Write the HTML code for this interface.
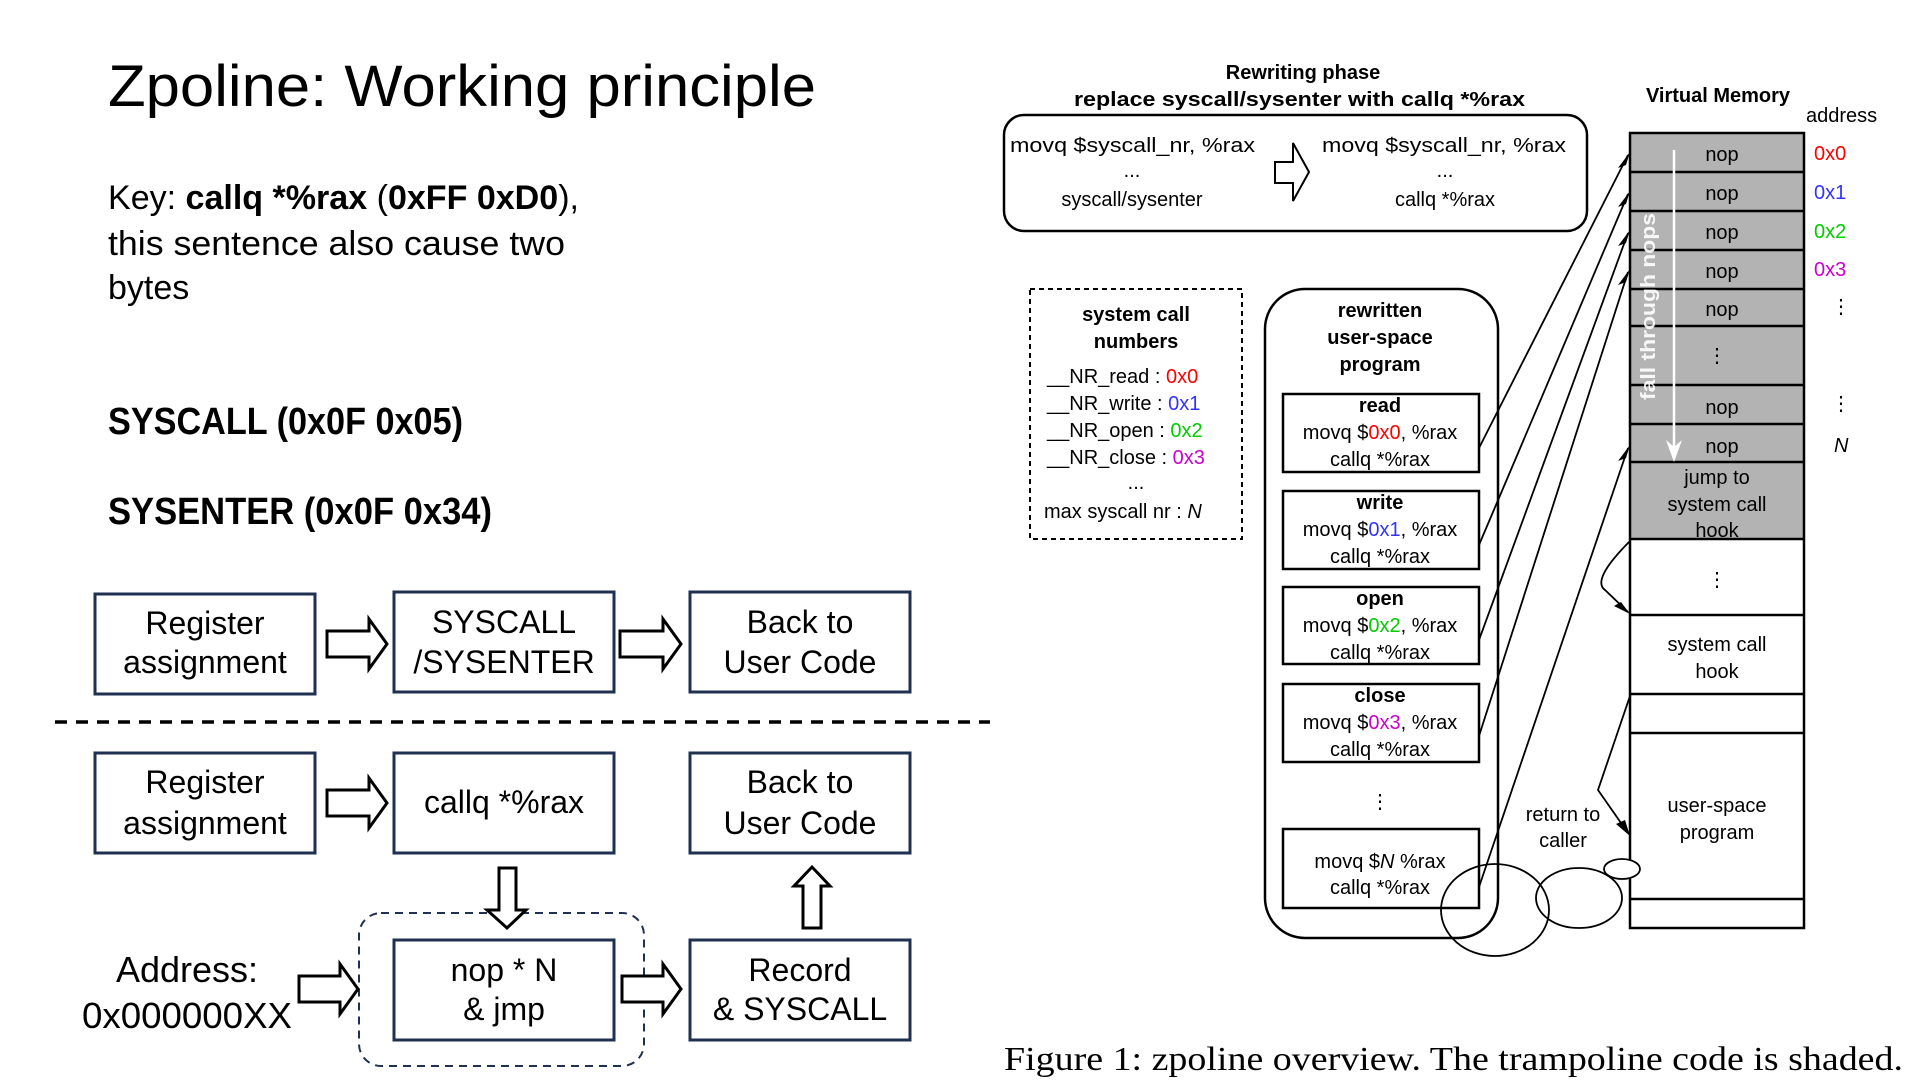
<!DOCTYPE html>
<html><head><meta charset="utf-8"><style>
html,body{margin:0;padding:0;background:#fff;}
svg{display:block;}
text{font-family:"Liberation Sans",sans-serif;fill:#000;}
.b{font-weight:bold;}
.c{text-anchor:middle;}
</style></head><body>
<svg width="1922" height="1087" viewBox="0 0 1922 1087" xmlns="http://www.w3.org/2000/svg">
<!-- LEFT -->
<text x="108" y="106" font-size="58" textLength="708" lengthAdjust="spacingAndGlyphs">Zpoline: Working principle</text>
<text x="108" y="209" font-size="34" textLength="471" lengthAdjust="spacingAndGlyphs">Key: <tspan class="b">callq *%rax</tspan> (<tspan class="b">0xFF 0xD0</tspan>),</text>
<text x="108" y="255" font-size="34" textLength="457" lengthAdjust="spacingAndGlyphs">this sentence also cause two</text>
<text x="108" y="299" font-size="34">bytes</text>
<text x="108" y="434" font-size="38" class="b" textLength="355" lengthAdjust="spacingAndGlyphs">SYSCALL (0x0F 0x05)</text>
<text x="108" y="524" font-size="38" class="b" textLength="384" lengthAdjust="spacingAndGlyphs">SYSENTER (0x0F 0x34)</text>

<g fill="#fff" stroke="#1f3050" stroke-width="3">
<rect x="95" y="594" width="220" height="100"/>
<rect x="394" y="592" width="220" height="100"/>
<rect x="690" y="592" width="220" height="100"/>
<rect x="95" y="753" width="220" height="100"/>
<rect x="394" y="753" width="220" height="100"/>
<rect x="690" y="753" width="220" height="100"/>
<rect x="394" y="940" width="220" height="100"/>
<rect x="690" y="940" width="220" height="100"/>
</g>
<line x1="55" y1="722" x2="990" y2="722" stroke="#000" stroke-width="3.5" stroke-dasharray="12,9"/>
<rect x="359" y="913" width="285" height="153" rx="22" fill="none" stroke="#1f3050" stroke-width="2" stroke-dasharray="8,6"/>
<g fill="#fff" stroke="#000" stroke-width="3">
<polygon points="327,631 369,631 369,619 387,644 369,669 369,657 327,657"/>
<polygon points="620,631 663,631 663,619 681,644 663,669 663,657 620,657"/>
<polygon points="327,790 369,790 369,778 387,803 369,828 369,816 327,816"/>
<polygon points="299,976 340,976 340,964 358,989 340,1014 340,1002 299,1002"/>
<polygon points="622,976 663,976 663,964 681,989 663,1014 663,1002 622,1002"/>
<polygon points="499,868 516,868 516,910 526,910 507,928 487,910 499,910"/>
<polygon points="803,928 821,928 821,886 830,886 812,867 794,886 803,886"/>
</g>
<g font-size="32" class="c">
<text x="205" y="634">Register</text><text x="205" y="673">assignment</text>
<text x="504" y="633">SYSCALL</text><text x="504" y="673">/SYSENTER</text>
<text x="800" y="633">Back to</text><text x="800" y="673">User Code</text>
<text x="205" y="793">Register</text><text x="205" y="834">assignment</text>
<text x="504" y="813">callq *%rax</text>
<text x="800" y="793">Back to</text><text x="800" y="834">User Code</text>
<text x="504" y="981">nop * N</text><text x="504" y="1020">&amp; jmp</text>
<text x="800" y="981">Record</text><text x="800" y="1020">&amp; SYSCALL</text>
<text x="187" y="982" font-size="36">Address:</text>
</g>
<text x="82" y="1028" font-size="36" textLength="210" lengthAdjust="spacingAndGlyphs">0x000000XX</text>

<!-- RIGHT -->
<g transform="translate(-5,0)">
<g font-size="20">
<text x="1308" y="79" class="b c">Rewriting phase</text>
<text x="1079" y="106" class="b" textLength="451" lengthAdjust="spacingAndGlyphs">replace syscall/sysenter with callq *%rax</text>
<rect x="1009" y="115" width="583" height="116" rx="20" fill="none" stroke="#000" stroke-width="2.5"/>
<text x="1015" y="152" textLength="245" lengthAdjust="spacingAndGlyphs">movq $syscall_nr, %rax</text>
<text x="1137" y="177" class="c">...</text>
<text x="1137" y="206" class="c">syscall/sysenter</text>
<text x="1327" y="152" textLength="244" lengthAdjust="spacingAndGlyphs">movq $syscall_nr, %rax</text>
<text x="1450" y="177" class="c">...</text>
<text x="1450" y="206" class="c">callq *%rax</text>
<polygon points="1280,162 1298,162 1298,143 1314,172 1298,201 1298,183 1280,183" fill="#fff" stroke="#000" stroke-width="2"/>

<text x="1723" y="102" class="b c">Virtual Memory</text>
<text x="1811" y="122">address</text>

<rect x="1635" y="133" width="174" height="406" fill="#b3b3b3"/>
<rect x="1635" y="133" width="174" height="795" fill="none" stroke="#000" stroke-width="2.5"/>
<g stroke="#000" stroke-width="2.5">
<line x1="1635" y1="172" x2="1809" y2="172"/><line x1="1635" y1="211" x2="1809" y2="211"/>
<line x1="1635" y1="250" x2="1809" y2="250"/><line x1="1635" y1="289" x2="1809" y2="289"/>
<line x1="1635" y1="326" x2="1809" y2="326"/><line x1="1635" y1="385" x2="1809" y2="385"/>
<line x1="1635" y1="424" x2="1809" y2="424"/><line x1="1635" y1="462" x2="1809" y2="462"/>
<line x1="1635" y1="539" x2="1809" y2="539"/><line x1="1635" y1="615" x2="1809" y2="615"/>
<line x1="1635" y1="694" x2="1809" y2="694"/><line x1="1635" y1="733" x2="1809" y2="733"/>
<line x1="1635" y1="899" x2="1809" y2="899"/>
</g>
<g class="c">
<text x="1727" y="161">nop</text><text x="1727" y="200">nop</text><text x="1727" y="239">nop</text>
<text x="1727" y="278">nop</text><text x="1727" y="316">nop</text>
<text x="1722" y="362">⋮</text>
<text x="1727" y="414">nop</text><text x="1727" y="453">nop</text>
<text x="1722" y="484">jump to</text><text x="1722" y="511">system call</text><text x="1722" y="537">hook</text>
<text x="1722" y="586">⋮</text>
<text x="1722" y="651">system call</text><text x="1722" y="678">hook</text>
<text x="1722" y="812">user-space</text><text x="1722" y="839">program</text>
</g>
<text x="1680" y="400" transform="rotate(-90 1660 400)" font-size="20" class="b" style="fill:#fff;opacity:.9" textLength="187" lengthAdjust="spacingAndGlyphs" dx="-20">fall through nops</text>
<line x1="1679" y1="150" x2="1679" y2="452" stroke="#fff" stroke-width="2.5"/>
<polygon points="1671,440 1679,462 1687,440 1679,447" fill="#fff"/>

<text x="1819" y="160" style="fill:#f00">0x0</text>
<text x="1819" y="199" style="fill:#33f">0x1</text>
<text x="1819" y="238" style="fill:#0c0">0x2</text>
<text x="1819" y="276" style="fill:#c0c">0x3</text>
<text x="1846" y="313" class="c">⋮</text>
<text x="1846" y="410" class="c">⋮</text>
<text x="1839" y="452" font-style="italic">N</text>

<rect x="1035" y="289" width="212" height="250" fill="none" stroke="#000" stroke-width="2" stroke-dasharray="5,4"/>
<text x="1141" y="321" class="b c">system call</text>
<text x="1141" y="348" class="b c">numbers</text>
<text x="1052" y="383">__NR_read : <tspan style="fill:#f00">0x0</tspan></text>
<text x="1052" y="410">__NR_write : <tspan style="fill:#33f">0x1</tspan></text>
<text x="1052" y="437">__NR_open : <tspan style="fill:#0c0">0x2</tspan></text>
<text x="1052" y="464">__NR_close : <tspan style="fill:#c0c">0x3</tspan></text>
<text x="1141" y="489" class="c">...</text>
<text x="1049" y="518">max syscall nr : <tspan font-style="italic">N</tspan></text>

<rect x="1270" y="289" width="233" height="649" rx="40" fill="none" stroke="#000" stroke-width="2.5"/>
<text x="1385" y="317" class="b c">rewritten</text>
<text x="1385" y="344" class="b c">user-space</text>
<text x="1385" y="371" class="b c">program</text>
<g fill="#fff" stroke="#000" stroke-width="2.5">
<rect x="1288" y="394" width="196" height="78"/>
<rect x="1288" y="491" width="196" height="78"/>
<rect x="1288" y="587" width="196" height="77"/>
<rect x="1288" y="684" width="196" height="78"/>
<rect x="1288" y="829" width="196" height="79"/>
</g>
<g class="c">
<text x="1385" y="412" class="b">read</text>
<text x="1385" y="439">movq $<tspan style="fill:#f00">0x0</tspan>, %rax</text>
<text x="1385" y="466">callq *%rax</text>
<text x="1385" y="509" class="b">write</text>
<text x="1385" y="536">movq $<tspan style="fill:#33f">0x1</tspan>, %rax</text>
<text x="1385" y="563">callq *%rax</text>
<text x="1385" y="605" class="b">open</text>
<text x="1385" y="632">movq $<tspan style="fill:#0c0">0x2</tspan>, %rax</text>
<text x="1385" y="659">callq *%rax</text>
<text x="1385" y="702" class="b">close</text>
<text x="1385" y="729">movq $<tspan style="fill:#c0c">0x3</tspan>, %rax</text>
<text x="1385" y="756">callq *%rax</text>
<text x="1385" y="808">⋮</text>
<text x="1385" y="868">movq $<tspan font-style="italic">N</tspan> %rax</text>
<text x="1385" y="894">callq *%rax</text>
<text x="1568" y="821">return to</text>
<text x="1568" y="847">caller</text>
</g>
</g>
<g stroke="#000" stroke-width="1.8" fill="none">
<line x1="1484" y1="448" x2="1633" y2="155"/>
<line x1="1484" y1="545" x2="1633" y2="194"/>
<line x1="1484" y1="640" x2="1633" y2="233"/>
<line x1="1484" y1="736" x2="1633" y2="272"/>
<line x1="1484" y1="887" x2="1633" y2="448"/>
<path d="M1635,541 Q1596,580 1610,590 L1633,612"/>
<path d="M1635,696 L1603,790 L1633,833"/>
<ellipse cx="1500" cy="910" rx="54" ry="46"/>
<ellipse cx="1584" cy="898" rx="43" ry="30"/>
<ellipse cx="1627" cy="869" rx="18" ry="10" fill="#fff"/>
</g>
<g fill="#000">
<polygon points="1635,152 1623,168 1631,165"/>
<polygon points="1635,191 1623,207 1631,204"/>
<polygon points="1635,230 1623,246 1631,243"/>
<polygon points="1635,269 1623,285 1631,282"/>
<polygon points="1635,445 1623,461 1631,458"/>
<polygon points="1635,614 1619,606 1626,602"/>
<polygon points="1635,836 1621,824 1630,820"/>
</g>
<text x="1009" y="1070" font-size="34" textLength="899" lengthAdjust="spacingAndGlyphs" style="font-family:'Liberation Serif',serif">Figure 1: zpoline overview. The trampoline code is shaded.</text>
</g>
</svg>
</body></html>
